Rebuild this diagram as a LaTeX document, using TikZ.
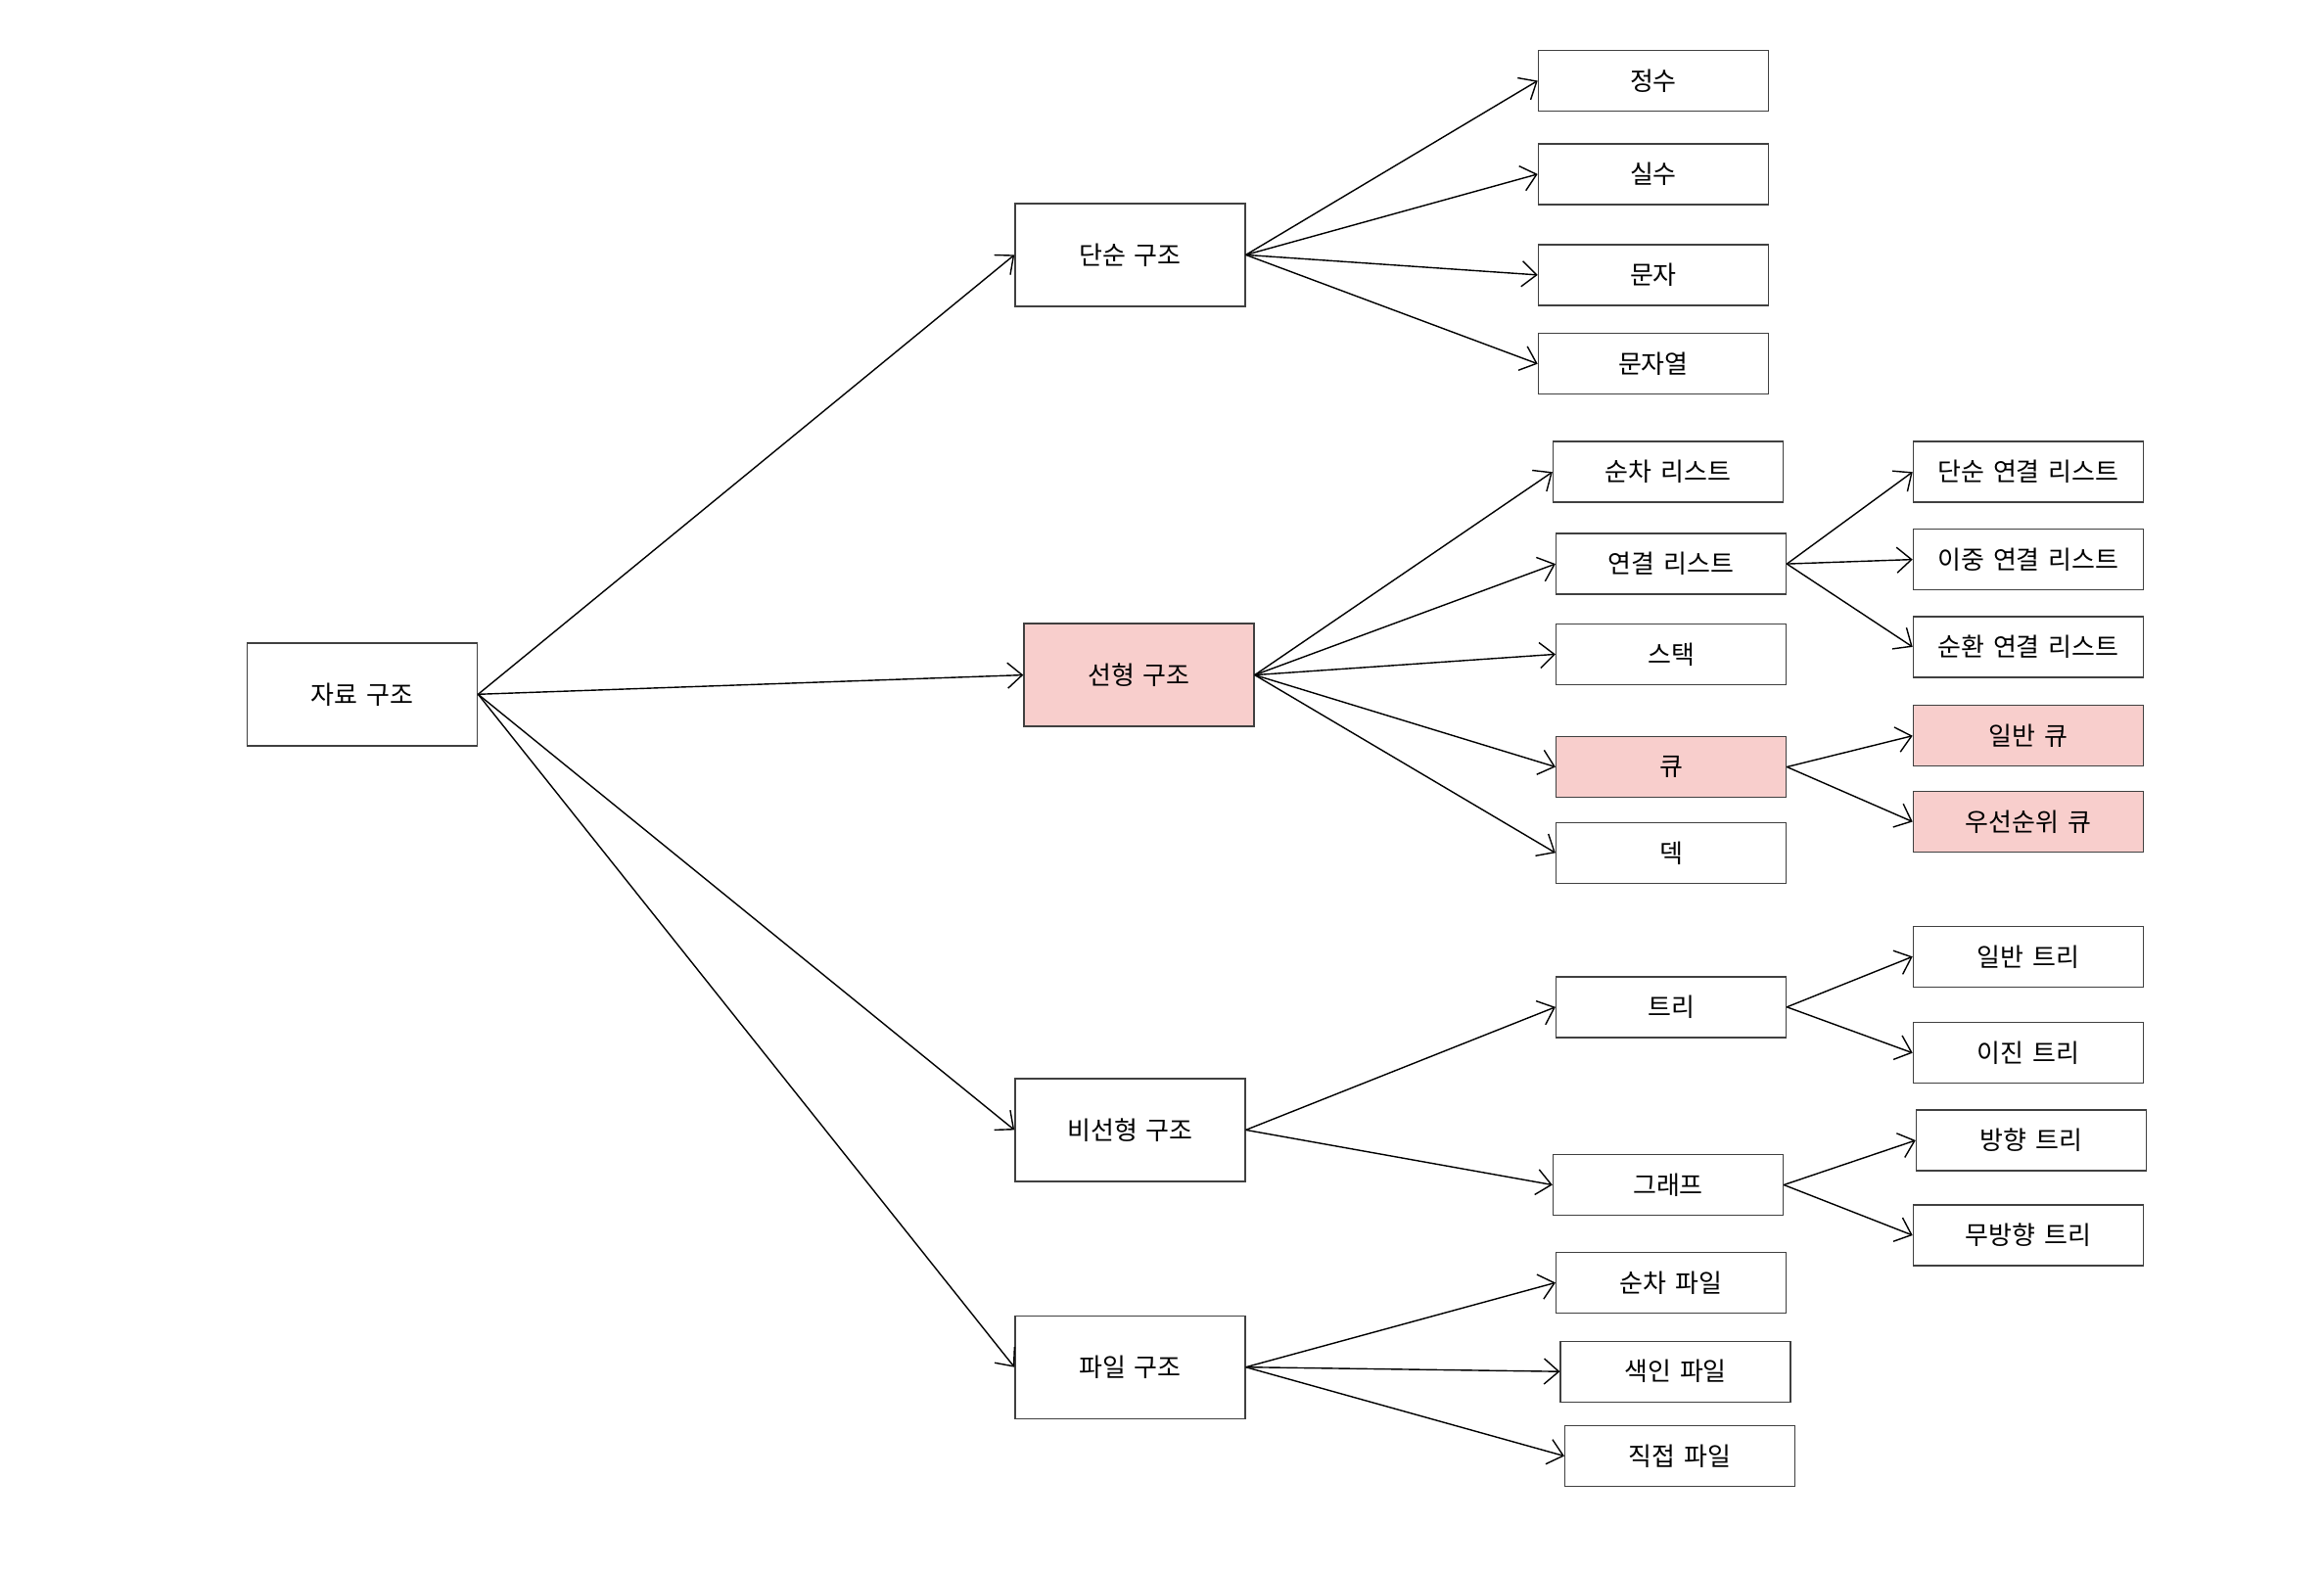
\documentclass[tikz,border=0pt]{standalone}
\usepackage{fontspec}
\setmainfont{Noto Sans CJK KR}[WordSpace=1.5]
\usepackage{tikz}
\usetikzlibrary{arrows.meta}
\definecolor{qpink}{HTML}{F8CECC}

\begin{document}
\begin{tikzpicture}
        [font=\fontsize{7.4pt}{8.5pt}\selectfont,
        big/.style={rectangle, draw=black!75, fill=white, line width=0.4pt, minimum width=2.35cm, minimum height=1.05cm, inner sep=0pt},
        box/.style={rectangle, draw=black!75, fill=white, line width=0.4pt, minimum width=2.35cm, minimum height=0.62cm, inner sep=0pt},
        hot/.style={fill=qpink},
        arr/.style={-{Straight Barb[length=1.5mm, width=2.6mm]}, line width=0.4pt}]
        \useasboundingbox (0,0) rectangle (23.74,-16.06);
        % root and main groups
        \node (DS) at (3.702, -7.093) [big] {자료 구조};
        \node (SIMPLE) at (11.544, -2.604) [big] {단순 구조};
        \node (LINEAR) at (11.635, -6.896) [big, hot] {선형 구조};
        \node (NONLIN) at (11.544, -11.544) [big] {비선형 구조};
        \node (FILE) at (11.544, -13.967) [big] {파일 구조};
        % simple
        \node (INT) at (16.889, -0.825) [box] {정수};
        \node (REAL) at (16.889, -1.779) [box] {실수};
        \node (CHAR) at (16.889, -2.809) [box] {문자};
        \node (STR) at (16.889, -3.717) [box] {문자열};
        % linear
        \node (SEQL) at (17.040, -4.822) [box] {순차 리스트};
        \node (LINKL) at (17.071, -5.761) [box] {연결 리스트};
        \node (STACK) at (17.071, -6.684) [box] {스택};
        \node (QUEUE) at (17.071, -7.835) [box, hot] {큐};
        \node (DEQUE) at (17.071, -8.713) [box] {덱};
        \node (SLL) at (20.719, -4.822) [box] {단순 연결 리스트};
        \node (DLL) at (20.719, -5.716) [box] {이중 연결 리스트};
        \node (CLL) at (20.719, -6.609) [box] {순환 연결 리스트};
        \node (NQ) at (20.719, -7.517) [box, hot] {일반 큐};
        \node (PQ) at (20.719, -8.395) [box, hot] {우선순위 큐};
        % non-linear
        \node (TREE) at (17.071, -10.288) [box] {트리};
        \node (GRAPH) at (17.040, -12.105) [box] {그래프};
        \node (GTREE) at (20.719, -9.773) [box] {일반 트리};
        \node (BTREE) at (20.719, -10.757) [box] {이진 트리};
        \node (DTREE) at (20.750, -11.650) [box] {방향 트리};
        \node (UTREE) at (20.719, -12.620) [box] {무방향 트리};
        % files
        \node (SEQF) at (17.071, -13.104) [box] {순차 파일};
        \node (IDXF) at (17.116, -14.012) [box] {색인 파일};
        \node (DIRF) at (17.161, -14.875) [box] {직접 파일};

        \path (DS.east) edge[arr] (SIMPLE.west)
                        edge[arr] (LINEAR.west)
                        edge[arr] (NONLIN.west)
                        edge[arr] (FILE.west);
        \path (SIMPLE.east) edge[arr] (INT.west)
                            edge[arr] (REAL.west)
                            edge[arr] (CHAR.west)
                            edge[arr] (STR.west);
        \path (LINEAR.east) edge[arr] (SEQL.west)
                            edge[arr] (LINKL.west)
                            edge[arr] (STACK.west)
                            edge[arr] (QUEUE.west)
                            edge[arr] (DEQUE.west);
        \path (LINKL.east) edge[arr] (SLL.west)
                           edge[arr] (DLL.west)
                           edge[arr] (CLL.west);
        \path (QUEUE.east) edge[arr] (NQ.west)
                           edge[arr] (PQ.west);
        \path (NONLIN.east) edge[arr] (TREE.west)
                            edge[arr] (GRAPH.west);
        \path (TREE.east) edge[arr] (GTREE.west)
                          edge[arr] (BTREE.west);
        \path (GRAPH.east) edge[arr] (DTREE.west)
                           edge[arr] (UTREE.west);
        \path (FILE.east) edge[arr] (SEQF.west)
                          edge[arr] (IDXF.west)
                          edge[arr] (DIRF.west);
     \end{tikzpicture}
\end{document}
